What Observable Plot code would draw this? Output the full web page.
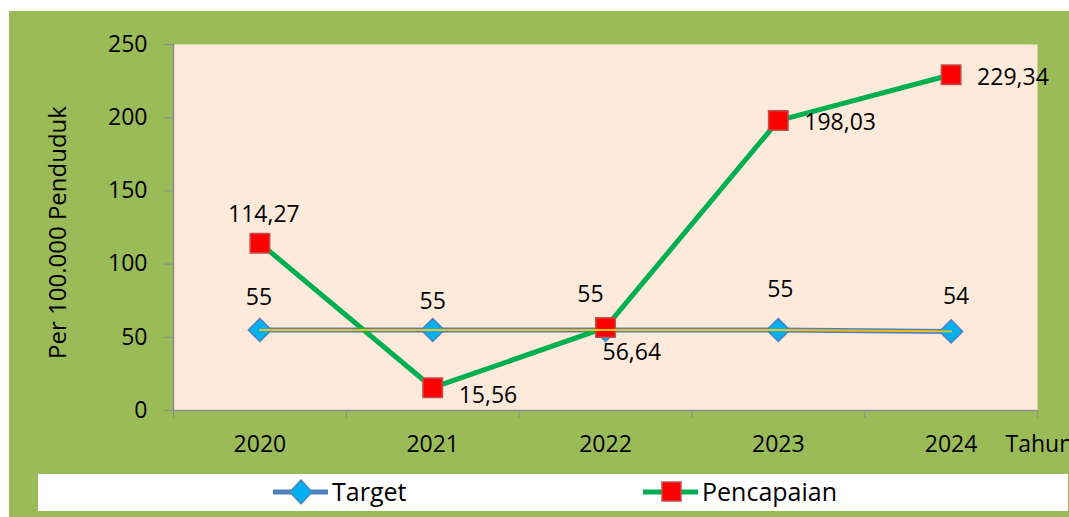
<!DOCTYPE html>
<html>
<head>
<meta charset="utf-8">
<script src="https://cdn.jsdelivr.net/npm/d3@7"></script>
<script src="https://cdn.jsdelivr.net/npm/@observablehq/plot@0.6"></script>
<style>
  html, body { margin: 0; padding: 0; background: #ffffff; }
  #wrap { position: relative; width: 1069px; height: 517px; overflow: hidden; background: #ffffff; font-family: "Open Sans", sans-serif; }
  #bg { position: absolute; left: 9px; top: 11px; width: 1060px; height: 506px; background: #9BBB59; }
  #chart { position: absolute; left: 0; top: 0; }
  #legend { position: absolute; left: 38px; top: 474px; width: 1030px; height: 37px; background: #ffffff; }
</style>
</head>
<body>
<div id="wrap">
  <div id="bg"></div>
  <div id="chart"></div>
  <div id="legend"></div>
</div>
<script>
// ---- data ----
const years = [2020, 2021, 2022, 2023, 2024];
const target = [55, 55, 55, 55, 54];
const pencapaian = [114.27, 15.56, 56.64, 198.03, 229.34];
const targetLabels = ["55", "55", "55", "55", "54"];
const pencapaianLabels = ["114,27", "15,56", "56,64", "198,03", "229,34"];
const yTicks = [0, 50, 100, 150, 200, 250];
const seriesNames = ["Target", "Pencapaian"];
const xUnit = "Tahun";
const yTitle = "Per 100.000 Penduduk";

// table built from arrays
const rows = years.map((year, i) => ({
  year, target: target[i], pencapaian: pencapaian[i],
  tLabel: targetLabels[i], pLabel: pencapaianLabels[i]
}));
const boundaries = [years[0] - 0.5, ...years.map(y => y + 0.5)];

// label placement (style, not data)
const tOffsets = [[-1, -32], [0, -28], [-15, -35], [2, -40], [5, -35]];
const pOffsets = [[4, -29, "middle"], [26, 8, "start"], [-3, 25, "start"], [26, 2, "start"], [26, 3, "start"]];

const BLUE = "#4F81BD", LIGHTBLUE = "#00B0F0", GREEN = "#00B050", RED = "#FF0000", DARKRED = "#C0504D", YELLOW = "#FFC000", AXIS = "#8C8C8C";

const marks = [
  Plot.frame({fill: "#FDEADA", stroke: "none"}),
  Plot.axisY({ticks: yTicks, tickSize: 9, tickPadding: 17, label: null, stroke: AXIS, color: "#000"}),
  Plot.axisX({ticks: boundaries, tickSize: 8, tickFormat: () => "", label: null, stroke: AXIS}),
  Plot.axisX({ticks: years, tickSize: 0, tickPadding: 25, tickFormat: d => String(d), label: null}),
  Plot.ruleY([0], {stroke: AXIS, strokeWidth: 1.5}),
  Plot.ruleX([boundaries[0]], {stroke: AXIS, strokeWidth: 1.5}),
  Plot.text([yTitle], {frameAnchor: "left", textAnchor: "middle", lineAnchor: "middle", rotate: -90, dx: -115, dy: 5, fill: "#000", fontSize: 24}),
  Plot.text([xUnit], {frameAnchor: "bottom-right", textAnchor: "start", lineAnchor: "middle", dx: -32, dy: 34, fill: "#000"}),
  // target series
  Plot.line(rows, {x: "year", y: "target", stroke: BLUE, strokeWidth: 5}),
  Plot.dot(rows, {x: "year", y: "target", symbol: "diamond2", r: 10.4, fill: LIGHTBLUE, stroke: BLUE, strokeWidth: 1.5}),
  // pencapaian series
  Plot.line(rows, {x: "year", y: "pencapaian", stroke: GREEN, strokeWidth: 5}),
  Plot.dot(rows, {x: "year", y: "pencapaian", symbol: "square", r: 11, fill: RED, stroke: DARKRED, strokeWidth: 1.5}),
  // thin yellow overlay line
  Plot.line(rows, {x: "year", y: "target", stroke: YELLOW, strokeWidth: 1.8}),
  ...tOffsets.map(([dx, dy], k) => Plot.text(rows, {filter: (d, i) => i === k, x: "year", y: "target", text: "tLabel", dx, dy, fill: "#000"})),
  ...pOffsets.map(([dx, dy, ta], k) => Plot.text(rows, {filter: (d, i) => i === k, x: "year", y: "pencapaian", text: "pLabel", dx, dy, textAnchor: ta, fill: "#000"}))
];

const chart = Plot.plot({
  width: 1069,
  height: 474,
  marginLeft: 173,
  marginRight: 32,
  marginTop: 44,
  marginBottom: 64,
  style: {fontFamily: "Open Sans", fontSize: "23px", background: "transparent", overflow: "visible", color: "#000"},
  x: {domain: [boundaries[0], boundaries[boundaries.length - 1]], axis: null},
  y: {domain: [0, 250], axis: null},
  marks
});
document.getElementById("chart").appendChild(chart);

// legend (swatches drawn from series names)
const lg = d3.select("#legend").append("svg").attr("width", 1030).attr("height", 37)
  .style("font-family", "Open Sans").style("font-size", "25px");
const items = [
  {name: seriesNames[0], x0: 235, line: BLUE, kind: "diamond"},
  {name: seriesNames[1], x0: 605, line: GREEN, kind: "square"}
];
items.forEach(it => {
  const g = lg.append("g").attr("transform", `translate(${it.x0},18)`);
  g.append("line").attr("x1", 0).attr("x2", 55).attr("y1", 0).attr("y2", 0).attr("stroke", it.line).attr("stroke-width", 5);
  if (it.kind === "diamond") {
    g.append("path").attr("d", "M28,-12L39,0L28,12L17,0Z").attr("fill", LIGHTBLUE).attr("stroke", BLUE).attr("stroke-width", 1.5);
  } else {
    g.append("rect").attr("x", 19).attr("y", -10).attr("width", 19).attr("height", 19).attr("fill", RED).attr("stroke", DARKRED).attr("stroke-width", 1.5);
  }
  g.append("text").attr("x", 59).attr("y", 0).attr("dy", "0.35em").attr("fill", "#000").text(it.name);
});
</script>
</body>
</html>
